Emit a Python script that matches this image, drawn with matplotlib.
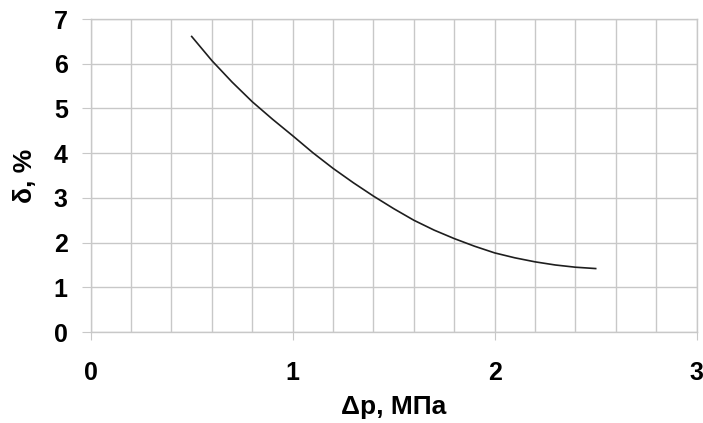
import matplotlib
matplotlib.use("Agg")
import matplotlib.pyplot as plt
import numpy as np

# data
dp = [0.5, 0.6, 0.7, 0.8, 0.9, 1.0, 1.1, 1.2, 1.3, 1.4, 1.5, 1.6, 1.7,
      1.8, 1.9, 2.0, 2.1, 2.2, 2.3, 2.4, 2.5]
delta = [6.61, 6.07, 5.59, 5.15, 4.76, 4.39, 4.01, 3.66, 3.34, 3.04, 2.76, 2.50,
         2.28, 2.09, 1.92, 1.77, 1.66, 1.57, 1.50, 1.45, 1.42]
x_ticks = [0, 1, 2, 3]
y_ticks = [0, 1, 2, 3, 4, 5, 6, 7]
x_label = "Δp, МПа"
y_label = "δ, %"

plt.rcParams['font.family'] = ['Liberation Sans', 'DejaVu Sans']

fig = plt.figure(figsize=(7.03, 4.23), dpi=100)
ax = fig.add_axes([0.129, 0.215, 0.862, 0.740])

grid_c = '#c8c8c8'
ax.set_xlim(0, 3)
ax.set_ylim(0, 7)
ax.set_xticks(x_ticks)
ax.set_xticks(np.arange(0, 3.01, 0.2), minor=True)
ax.set_yticks(y_ticks)
ax.grid(True, which='both', color=grid_c, linewidth=1.0)
ax.set_axisbelow(True)
for s in ax.spines.values():
    s.set_color(grid_c)
    s.set_linewidth(1.0)

ax.plot(dp, delta, color='#1e1e1e', linewidth=1.2)

ax.tick_params(axis='x', which='major', direction='out', length=6, color=grid_c,
               labelsize=18, pad=15)
ax.tick_params(axis='x', which='minor', length=0)
ax.tick_params(axis='y', which='major', direction='out', length=6.5, color=grid_c,
               labelsize=18, pad=10)
for lab in ax.get_xticklabels() + ax.get_yticklabels():
    lab.set_fontweight('bold')

ax.set_xlabel(x_label, fontsize=19, fontweight='bold')
ax.set_ylabel(y_label, fontsize=19, fontweight='bold')
ax.xaxis.set_label_coords(0.5, -0.20)
ax.yaxis.set_label_coords(-0.089, 0.5)

fig.savefig("out.png", dpi=100)
